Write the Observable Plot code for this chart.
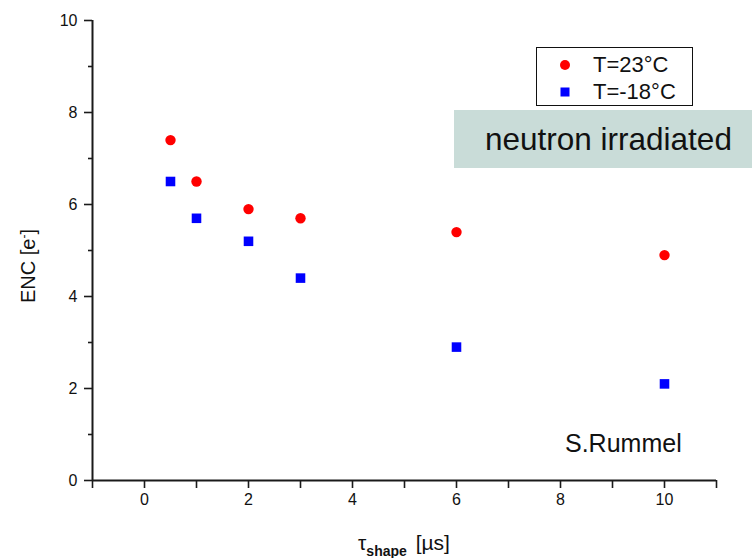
<!DOCTYPE html>
<html>
<head>
<meta charset="utf-8">
<script src="https://cdn.jsdelivr.net/npm/d3@7"></script>
<script src="https://cdn.jsdelivr.net/npm/@observablehq/plot@0.6"></script>
<style>
  body { margin: 0; background: #fff; }
  #wrap { position: relative; width: 752px; height: 558px; font-family: "Liberation Sans", Arial, sans-serif; color: #111; overflow: hidden; }
  .overlay { position: absolute; }
  #legend { left: 536px; top: 47px; width: 155px; height: 57px; border: 1px solid #111; background: #fff; }
  .lg-row { position: absolute; left: 0; width: 155px; height: 26px; font-size: 22px; line-height: 26px; }
  .lg-row svg { position: absolute; left: 21px; top: 6px; }
  .lg-row span { position: absolute; left: 56px; top: 0; white-space: nowrap; }
  #note { left: 454px; top: 110px; width: 298px; height: 58px; background: #c9dcd8; }
  #note span { position: absolute; left: 31px; top: 11px; font-size: 31.5px; line-height: 36px; white-space: nowrap; }
  #author { left: 565px; top: 428px; font-size: 25px; line-height: 30px; white-space: nowrap; }
  #ylabel { left: 28px; top: 266px; font-size: 20px; transform: translate(-50%, -50%) rotate(-90deg); white-space: nowrap; }
  #xlabel { left: 404px; top: 545px; font-size: 21px; transform: translate(-50%, -50%); white-space: nowrap; }
  #xlabel sub { font-size: 14px; font-weight: bold; vertical-align: -6px; margin-right: 3px; }
  #ylabel sup { font-size: 12px; vertical-align: 7px; }
</style>
</head>
<body>
<div id="wrap"></div>
<script>
// Shaping time (µs) and measured ENC for the two temperatures
const shapingTimes = [0.5, 1, 2, 3, 6, 10];
const encWarm = [7.4, 6.5, 5.9, 5.7, 5.4, 4.9];   // T = 23 °C
const encCold = [6.5, 5.7, 5.2, 4.4, 2.9, 2.1];   // T = -18 °C
const seriesNames = ["T=23°C", "T=-18°C"];
const seriesColors = ["#ff0000", "#0000ff"];

const xMajorTicks = [0, 2, 4, 6, 8, 10];
const xMinorTicks = [-1, 1, 3, 5, 7, 9, 11];
const yMajorTicks = [0, 2, 4, 6, 8, 10];
const yMinorTicks = [1, 3, 5, 7, 9];

const warm = shapingTimes.map((t, i) => ({t, enc: encWarm[i]}));
const cold = shapingTimes.map((t, i) => ({t, enc: encCold[i]}));

const axisColor = "#1a1a1a";

const chart = Plot.plot({
  width: 752,
  height: 558,
  marginLeft: 92,
  marginTop: 20,
  marginRight: 36,
  marginBottom: 78,
  x: {domain: [-1, 11]},
  y: {domain: [0, 10]},
  style: {fontFamily: "Liberation Sans, Arial, sans-serif", fontSize: "16px", color: "#111", background: "white"},
  marks: [
    Plot.axisX({ticks: xMajorTicks, tickSize: 8, tickPadding: 5, label: null, stroke: axisColor, strokeWidth: 1.6, fontSize: 16}),
    Plot.axisX({ticks: xMinorTicks, tickSize: 8, text: null, label: null, stroke: axisColor, strokeWidth: 1.6}),
    Plot.axisY({ticks: yMajorTicks, tickSize: 8, tickPadding: 7, label: null, stroke: axisColor, strokeWidth: 1.6, fontSize: 16}),
    Plot.axisY({ticks: yMinorTicks, tickSize: 4, text: null, label: null, stroke: axisColor, strokeWidth: 1.6}),
    Plot.ruleX([-1], {y1: 0, y2: 10, stroke: axisColor, strokeWidth: 2}),
    Plot.ruleY([0], {x1: -1, x2: 11, stroke: axisColor, strokeWidth: 2}),
    Plot.dot(warm, {x: "t", y: "enc", symbol: "circle", r: 5.2, fill: seriesColors[0], stroke: "none"}),
    Plot.dot(cold, {x: "t", y: "enc", symbol: "square", r: 5.4, fill: seriesColors[1], stroke: "none"})
  ]
});

const wrap = document.getElementById("wrap");
wrap.appendChild(chart);

// Legend box
const legend = document.createElement("div");
legend.id = "legend";
legend.className = "overlay";
const symbols = [
  `<svg width="14" height="14"><circle cx="7" cy="7" r="5" fill="${seriesColors[0]}"/></svg>`,
  `<svg width="14" height="14"><rect x="2.5" y="2.5" width="9" height="9" fill="${seriesColors[1]}"/></svg>`
];
seriesNames.forEach((name, i) => {
  const row = document.createElement("div");
  row.className = "lg-row";
  row.style.top = (4 + i * 27) + "px";
  row.innerHTML = symbols[i] + `<span>${name}</span>`;
  legend.appendChild(row);
});
wrap.appendChild(legend);

// Annotation banner
const note = document.createElement("div");
note.id = "note";
note.className = "overlay";
note.innerHTML = "<span>neutron irradiated</span>";
wrap.appendChild(note);

// Author tag
const author = document.createElement("div");
author.id = "author";
author.className = "overlay";
author.textContent = "S.Rummel";
wrap.appendChild(author);

// Axis titles
const ylabel = document.createElement("div");
ylabel.id = "ylabel";
ylabel.className = "overlay";
ylabel.innerHTML = "ENC [e<sup>-</sup>]";
wrap.appendChild(ylabel);

const xlabel = document.createElement("div");
xlabel.id = "xlabel";
xlabel.className = "overlay";
xlabel.innerHTML = "τ<sub>shape</sub> [µs]";
wrap.appendChild(xlabel);
</script>
</body>
</html>
